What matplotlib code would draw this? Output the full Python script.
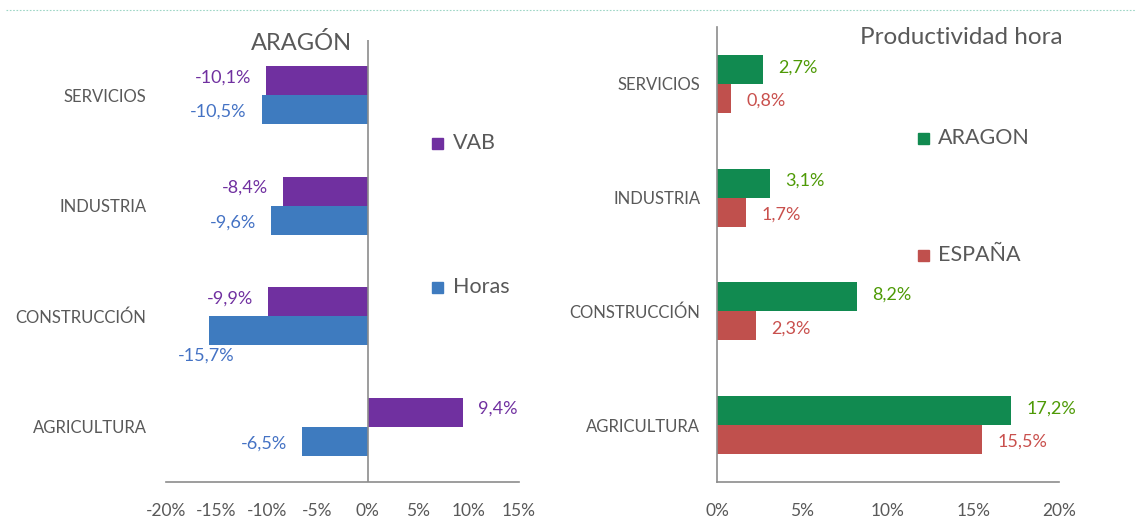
import matplotlib.pyplot as plt
from matplotlib.lines import Line2D

# data
sectores = ['AGRICULTURA', 'CONSTRUCCIÓN', 'INDUSTRIA', 'SERVICIOS']
vab = [9.4, -9.9, -8.4, -10.1]
horas = [-6.5, -15.7, -9.6, -10.5]
prod_aragon = [17.2, 8.2, 3.1, 2.7]
prod_espana = [15.5, 2.3, 1.7, 0.8]

left_ticks = [-20, -15, -10, -5, 0, 5, 10, 15]
right_ticks = [0, 5, 10, 15, 20]

plt.rcParams['font.family'] = ['Lato', 'DejaVu Sans']
grey = '#595959'
axis_grey = '#8c8c8c'


def fmt(v):
    return ('%.1f%%' % v).replace('.', ',')


fig = plt.figure(figsize=(11.35, 5.32), dpi=100)

# dotted line at top
fig.add_artist(Line2D([0.005, 1.0], [0.981, 0.981], color='#9ed6c6',
                      lw=0.8, ls=(0, (1.5, 1.5))))

# left: ARAGÓN
ax1 = fig.add_axes([0.1463, 0.094, 0.311, 0.831])
pos = list(range(len(sectores)))
h = 0.262
ax1.barh([p + h / 2 for p in pos], vab, height=h, color='#7030A0')
ax1.barh([p - h / 2 for p in pos], horas, height=h, color='#3E7BBF')
ax1.set_xlim(-20, 15)
ax1.set_ylim(-0.5, 3.5)
ax1.axvline(0, color=axis_grey, lw=1.2)
for s in ['top', 'right', 'left']:
    ax1.spines[s].set_visible(False)
ax1.spines['bottom'].set_color(axis_grey)
ax1.spines['bottom'].set_linewidth(1.2)
ax1.set_xticks(left_ticks)
ax1.set_xticklabels(['%d%%' % t for t in left_ticks])
ax1.set_yticks(pos)
ax1.set_yticklabels(sectores)
ax1.tick_params(length=0, colors=grey, labelsize=12.5)
ax1.tick_params(axis='y', pad=14, labelsize=12)
ax1.tick_params(axis='x', pad=15)

for p, v in zip(pos, vab):
    off = 1.5 if v > 0 else -1.5
    ax1.text(v + off, p + h / 2 + 0.03, fmt(v), color='#7030A0', fontsize=13,
             ha='left' if v > 0 else 'right', va='center')
for p, v in zip(pos, horas):
    if v < -14:
        # no room on the left: Excel puts it under the bar
        ax1.text(v - 0.3, p - h / 2 - 0.23, fmt(v), color='#4472C4', fontsize=13,
                 ha='center', va='center')
        continue
    off = 1.5 if v > 0 else -1.5
    ax1.text(v + off, p - h / 2 - 0.02, fmt(v), color='#4472C4', fontsize=13,
             ha='left' if v > 0 else 'right', va='center')

fig.text(301 / 1135, 1 - 43 / 532, 'ARAGÓN', color=grey, fontsize=17,
         ha='center', va='center')

# legend left
fig.patches.append(plt.Rectangle((432 / 1135, 1 - 149 / 532), 11 / 1135, 11 / 532,
                                 transform=fig.transFigure, color='#7030A0'))
fig.text(453 / 1135, 1 - 143 / 532, 'VAB', color=grey, fontsize=15.5, va='center')
fig.patches.append(plt.Rectangle((432 / 1135, 1 - 293 / 532), 11 / 1135, 11 / 532,
                                 transform=fig.transFigure, color='#3E7BBF'))
fig.text(453 / 1135, 1 - 287 / 532, 'Horas', color=grey, fontsize=15.5, va='center')

# right: Productividad hora
ax2 = fig.add_axes([0.6317, 0.094, 0.3013, 0.855])
h2 = 0.255
ax2.barh([p + h2 / 2 for p in pos], prod_aragon, height=h2, color='#118A50')
ax2.barh([p - h2 / 2 for p in pos], prod_espana, height=h2, color='#C0504D')
ax2.set_xlim(0, 20)
ax2.set_ylim(-0.5, 3.5)
for s in ['top', 'right']:
    ax2.spines[s].set_visible(False)
for s in ['left', 'bottom']:
    ax2.spines[s].set_color(axis_grey)
    ax2.spines[s].set_linewidth(1.2)
ax2.set_xticks(right_ticks)
ax2.set_xticklabels(['%d%%' % t for t in right_ticks])
ax2.set_yticks(pos)
ax2.set_yticklabels(sectores)
ax2.tick_params(length=0, colors=grey, labelsize=12.5)
ax2.tick_params(axis='y', pad=12, labelsize=12)
ax2.tick_params(axis='x', pad=15)

for p, v in zip(pos, prod_aragon):
    ax2.text(v + 0.9, p + h2 / 2 + 0.02, fmt(v), color='#4E9A06', fontsize=13,
             ha='left', va='center')
for p, v in zip(pos, prod_espana):
    ax2.text(v + 0.9, p - h2 / 2 - 0.02, fmt(v), color='#C9504D', fontsize=13,
             ha='left', va='center')

fig.text(961 / 1135, 1 - 37 / 532, 'Productividad hora', color=grey, fontsize=17.5,
         ha='center', va='center')

fig.patches.append(plt.Rectangle((918 / 1135, 1 - 144 / 532), 11 / 1135, 11 / 532,
                                 transform=fig.transFigure, color='#118A50'))
fig.text(938 / 1135, 1 - 138 / 532, 'ARAGON', color=grey, fontsize=15.5, va='center')
fig.patches.append(plt.Rectangle((918 / 1135, 1 - 261 / 532), 11 / 1135, 11 / 532,
                                 transform=fig.transFigure, color='#C0504D'))
fig.text(938 / 1135, 1 - 255 / 532, 'ESPAÑA', color=grey, fontsize=15.5, va='center')

fig.savefig('out.png', dpi=100, facecolor='white')
